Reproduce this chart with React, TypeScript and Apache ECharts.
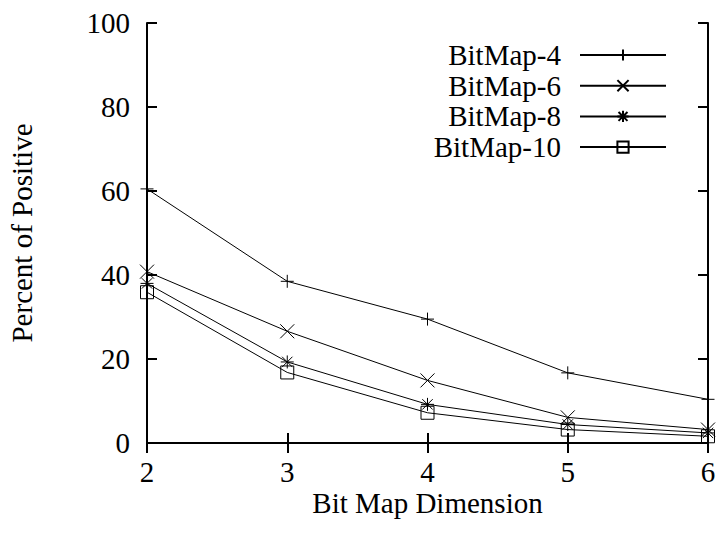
import React, { useEffect, useRef } from "react";
import * as echarts from "echarts";

const dimensions = [2, 3, 4, 5, 6];
const bitmap4 = [60.5, 38.5, 29.5, 16.7, 10.4];
const bitmap6 = [40.8, 26.6, 14.9, 6.1, 3.2];
const bitmap8 = [38.0, 19.3, 9.2, 4.4, 2.4];
const bitmap10 = [35.9, 16.8, 7.2, 3.2, 1.6];
const seriesNames = ["BitMap-4", "BitMap-6", "BitMap-8", "BitMap-10"];

const FONT = "'Liberation Serif', 'Times New Roman', serif";
const FS = 29;

const SYM_PLUS = "path://M0,5L10,5M5,0L5,10";
const SYM_CROSS = "path://M0,0L10,10M10,0L0,10";
const SYM_STAR = "path://M0,5L10,5M5,0L5,10M1,1L9,9M9,1L1,9";
const SYM_SQUARE = "path://M0,0L10,0L10,10L0,10Z";

export default function App() {
  const ref = useRef<HTMLDivElement>(null);
  useEffect(() => {
    if (!ref.current) return;
    const chart = echarts.init(ref.current, null, { renderer: "svg" });
    const values = [bitmap4, bitmap6, bitmap8, bitmap10];
    const symbols = [SYM_PLUS, SYM_CROSS, SYM_STAR, SYM_SQUARE];
    const sizes = [13, 14, 13, 13];
    const series = values.map((vals, i) => ({
      name: seriesNames[i],
      type: "line",
      xAxisIndex: 0,
      yAxisIndex: 0,
      data: dimensions.map((d, j) => [d, vals[j]]),
      symbol: symbols[i],
      symbolSize: sizes[i],
      showAllSymbol: true,
      lineStyle: { color: "#000", width: 1 },
      itemStyle: { color: "rgba(0,0,0,0)", borderColor: "#000", borderWidth: 1 },
      emphasis: { disabled: true },
    }));
    const axisLine = { show: true, lineStyle: { color: "#000", width: 2 } };
    const axisTick = { show: true, inside: true, length: 10, lineStyle: { color: "#000", width: 2 } };
    chart.setOption({
      animation: false,
      grid: { left: 147, right: 14, top: 23, bottom: 93 },
      legend: {
        orient: "vertical",
        right: 50,
        top: 35,
        align: "right",
        itemWidth: 86,
        itemHeight: 14,
        itemGap: 0.7,
        textStyle: { fontFamily: FONT, fontSize: FS, lineHeight: 30, color: "#000", padding: [0, 14, 0, 0] },
        data: seriesNames,
      },
      xAxis: [
        {
          type: "value",
          min: 2,
          max: 6,
          interval: 1,
          name: "Bit Map Dimension",
          nameLocation: "middle",
          nameGap: 48,
          nameMoveOverlap: false,
          nameTextStyle: { fontFamily: FONT, fontSize: FS, lineHeight: 24, color: "#000" },
          axisLine,
          axisTick,
          splitLine: { show: false },
          axisLabel: { fontFamily: FONT, fontSize: FS, lineHeight: 22, color: "#000", margin: 18 },
        },
        {
          type: "value",
          position: "top",
          min: 2,
          max: 6,
          interval: 1,
          axisLine,
          axisTick,
          splitLine: { show: false },
          axisLabel: { show: false },
        },
      ],
      yAxis: [
        {
          type: "value",
          min: 0,
          max: 100,
          interval: 20,
          axisLine,
          axisTick,
          splitLine: { show: false },
          axisLabel: { fontFamily: FONT, fontSize: FS, color: "#000", margin: 17 },
        },
        {
          type: "value",
          position: "right",
          min: 0,
          max: 100,
          interval: 20,
          axisLine,
          axisTick,
          splitLine: { show: false },
          axisLabel: { show: false },
        },
      ],
      graphic: [
        {
          type: "text",
          x: 22,
          y: 233,
          rotation: Math.PI / 2,
          style: {
            text: "Percent of Positive",
            fontFamily: FONT,
            fontSize: FS,
            fill: "#000",
            align: "center",
            verticalAlign: "middle",
          },
        },
      ],
      series,
    });
    return () => chart.dispose();
  }, []);
  return (
    <div
      ref={ref}
      style={{ position: "absolute", left: 0, top: 0, width: 722, height: 536, background: "#fff" }}
    />
  );
}
